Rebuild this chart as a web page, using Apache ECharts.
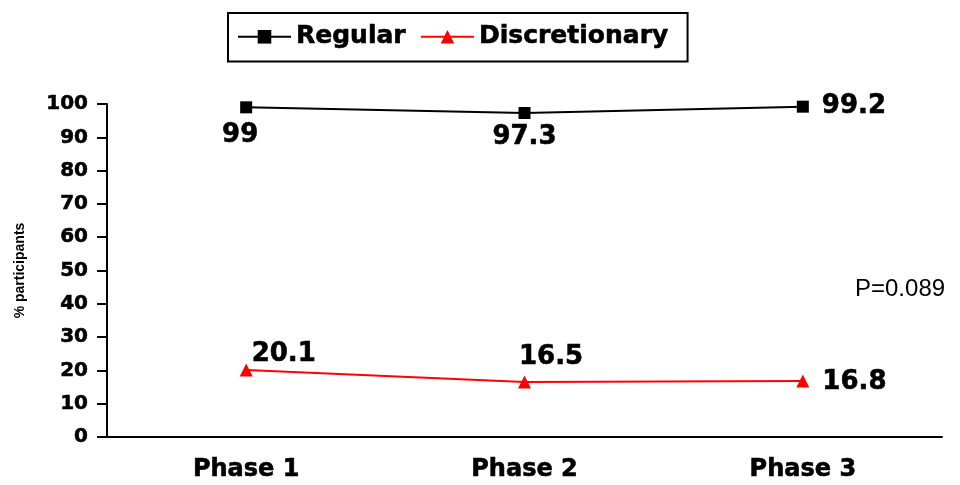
<!DOCTYPE html>
<html><head><meta charset="utf-8">
<script src="https://cdn.jsdelivr.net/npm/echarts@6/dist/echarts.min.js"></script>
<style>html,body{margin:0;padding:0;background:#fff}#c{width:960px;height:485px}</style>
</head><body><div id="c"></div>
<script>
const categories = ['Phase 1', 'Phase 2', 'Phase 3'];
const regular = [99, 97.3, 99.2];
const discretionary = [20.1, 16.5, 16.8];
const yTicks = [0, 100, 10];
const pText = 'P=0.089';

const bold = 'DejaVu Sans, sans-serif';
const plain = 'Liberation Sans, Arial, sans-serif';
const heavy = {textBorderColor: '#000', textBorderWidth: 0.6};
const chart = echarts.init(document.getElementById('c'));
const regPos = [
  {position: 'bottom', distance: 9, offset: [-6, 0]},
  {position: 'bottom', distance: 5, offset: [0, 0]},
  {position: 'right', distance: 13, offset: [0, 0]}
];
const disPos = [
  {position: 'right', distance: 0, offset: [-1, -16]},
  {position: 'right', distance: 0, offset: [-12, -25]},
  {position: 'right', distance: 13, offset: [0, 1]}
];
chart.setOption({
  animation: false,
  grid: {left: 107, right: 18, top: 104, bottom: 48},
  legend: {
    top: 13, left: 228,
    data: ['Regular', 'Discretionary'],
    borderColor: '#000', borderWidth: 2,
    padding: [11, 19, 12, 9],
    itemWidth: 53, itemHeight: 17, itemGap: 14,
    lineStyle: {width: 2},
    textStyle: Object.assign({fontFamily: bold, fontWeight: 'bold', fontSize: 25, color: '#000'}, heavy)
  },
  xAxis: {
    type: 'category', data: categories, boundaryGap: true,
    axisLine: {lineStyle: {color: '#000', width: 2}},
    axisTick: {length: 10, lineStyle: {color: '#000', width: 2}},
    axisLabel: Object.assign({fontFamily: bold, fontWeight: 'bold', fontSize: 24, color: '#000', margin: 21}, heavy)
  },
  yAxis: {
    type: 'value', min: yTicks[0], max: yTicks[1], interval: yTicks[2],
    name: '% participants', nameLocation: 'middle', nameGap: 80, nameRotate: 90,
    nameTextStyle: {fontFamily: plain, fontWeight: 'bold', fontSize: 14, color: '#000'},
    axisLine: {show: true, lineStyle: {color: '#000', width: 2}},
    axisTick: {show: true, length: 10, lineStyle: {color: '#000', width: 2}},
    splitLine: {show: false},
    axisLabel: Object.assign({fontFamily: bold, fontWeight: 'bold', fontSize: 20, color: '#000', margin: 19}, heavy)
  },
  series: [
    {
      name: 'Regular', type: 'line',
      data: regular.map((v, i) => ({value: v, label: regPos[i]})),
      symbol: 'rect', symbolSize: 12,
      lineStyle: {color: '#000', width: 2},
      itemStyle: {color: '#000'},
      label: Object.assign({show: true, fontFamily: bold, fontWeight: 'bold', fontSize: 26, color: '#000'}, heavy)
    },
    {
      name: 'Discretionary', type: 'line',
      data: discretionary.map((v, i) => ({value: v, label: disPos[i]})),
      symbol: 'triangle', symbolSize: 13,
      lineStyle: {color: '#ff0000', width: 2},
      itemStyle: {color: '#ff0000'},
      label: Object.assign({show: true, fontFamily: bold, fontWeight: 'bold', fontSize: 26, color: '#000'}, heavy)
    }
  ],
  graphic: [{
    type: 'text', left: 855, top: 277,
    style: {text: pText, fontFamily: plain, fontSize: 24, fill: '#000'}
  }]
});
</script></body></html>
